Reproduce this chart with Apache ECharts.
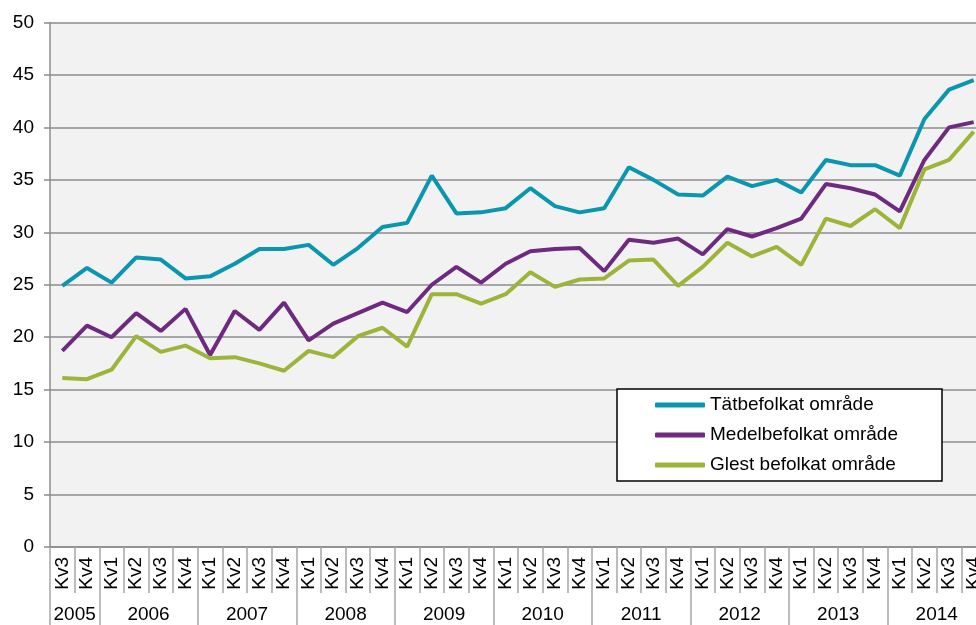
<!DOCTYPE html>
<html>
<head>
<meta charset="utf-8">
<title>Befolkningstäthet</title>
<script src="https://cdn.jsdelivr.net/npm/echarts@6/dist/echarts.min.js"></script>
<style>
  html, body { margin: 0; padding: 0; background: #fff; overflow: hidden; }
  #chart { width: 976px; height: 625px; }
</style>
</head>
<body>
<div id="chart"></div>
<script>
// Quarters (one entry per point on the horizontal axis)
const quarters = [
  'Kv3', 'Kv4',
  'Kv1', 'Kv2', 'Kv3', 'Kv4',
  'Kv1', 'Kv2', 'Kv3', 'Kv4',
  'Kv1', 'Kv2', 'Kv3', 'Kv4',
  'Kv1', 'Kv2', 'Kv3', 'Kv4',
  'Kv1', 'Kv2', 'Kv3', 'Kv4',
  'Kv1', 'Kv2', 'Kv3', 'Kv4',
  'Kv1', 'Kv2', 'Kv3', 'Kv4',
  'Kv1', 'Kv2', 'Kv3', 'Kv4',
  'Kv1', 'Kv2', 'Kv3', 'Kv4'
];

// Year groups and how many quarters each one spans
const years = ['2005', '2006', '2007', '2008', '2009', '2010', '2011', '2012', '2013', '2014'];
const quartersPerYear = [2, 4, 4, 4, 4, 4, 4, 4, 4, 4];

const seriesNames = ['Tätbefolkat område', 'Medelbefolkat område', 'Glest befolkat område'];

const tatbefolkat = [
  24.9, 26.6, 25.2, 27.6, 27.4, 25.6, 25.8, 27.0, 28.4, 28.4,
  28.8, 26.9, 28.5, 30.5, 30.9, 35.4, 31.8, 31.9, 32.3, 34.2,
  32.5, 31.9, 32.3, 36.2, 35.0, 33.6, 33.5, 35.3, 34.4, 35.0,
  33.8, 36.9, 36.4, 36.4, 35.4, 40.8, 43.6, 44.5
];

const medelbefolkat = [
  18.7, 21.1, 20.0, 22.3, 20.6, 22.7, 18.3, 22.5, 20.7, 23.3,
  19.7, 21.3, 22.3, 23.3, 22.4, 25.0, 26.7, 25.2, 27.0, 28.2,
  28.4, 28.5, 26.3, 29.3, 29.0, 29.4, 27.9, 30.3, 29.6, 30.4,
  31.3, 34.6, 34.2, 33.6, 32.0, 36.9, 40.0, 40.5
];

const glestBefolkat = [
  16.1, 16.0, 16.9, 20.1, 18.6, 19.2, 18.0, 18.1, 17.5, 16.8,
  18.7, 18.1, 20.1, 20.9, 19.1, 24.1, 24.1, 23.2, 24.1, 26.2,
  24.8, 25.5, 25.6, 27.3, 27.4, 24.9, 26.7, 29.0, 27.7, 28.6,
  26.9, 31.3, 30.6, 32.2, 30.4, 36.0, 36.9, 39.6
];

const colors = ['#0B96AF', '#6E2A7E', '#9DB43A'];
const fontFamily = "'Liberation Sans', Arial, sans-serif";
const gridGray = '#8C8C8C';
const sepGray = '#A6A6A6';

// Year separators sit on the quarter boundaries; year labels sit mid-group
const yearBounds = [0];
const yearCenters = [];
quartersPerYear.forEach(function (n, i) {
  const start = yearBounds[i];
  yearCenters.push(start + n / 2);
  yearBounds.push(start + n);
});
const yearAt = {};
yearCenters.forEach(function (c, i) { yearAt[c] = years[i]; });

const chart = echarts.init(document.getElementById('chart'), null, { renderer: 'canvas' });

chart.setOption({
  animation: false,
  color: colors,
  textStyle: { fontFamily: fontFamily },
  // The plot runs a little past the right edge of the canvas
  grid: {
    left: 50,
    width: 936,
    top: 22.5,
    bottom: 78,
    outerBoundsMode: 'none',
    containLabel: false,
    show: true,
    backgroundColor: '#F2F2F2',
    borderWidth: 0
  },
  legend: {
    orient: 'vertical',
    left: 617,
    top: 389,
    backgroundColor: '#FFFFFF',
    borderColor: '#000000',
    borderWidth: 1.5,
    borderRadius: 0,
    padding: [6, 44, 6, 38],
    itemGap: 10,
    itemWidth: 50,
    itemHeight: 5,
    icon: 'roundRect',
    textStyle: {
      fontFamily: fontFamily,
      fontSize: 19,
      lineHeight: 20,
      color: '#000000'
    },
    data: seriesNames
  },
  xAxis: [
    {
      type: 'category',
      data: quarters,
      boundaryGap: true,
      position: 'bottom',
      axisLine: { show: true, lineStyle: { color: gridGray, width: 1.5 } },
      axisTick: {
        show: true,
        interval: 0,
        length: 46,
        lineStyle: { color: sepGray, width: 1.5 }
      },
      axisLabel: {
        interval: 0,
        rotate: 90,
        margin: 10,
        fontSize: 19,
        color: '#000000',
        fontFamily: fontFamily
      },
      splitLine: { show: false }
    },
    {
      type: 'value',
      min: 0,
      max: quarters.length,
      position: 'bottom',
      axisLine: { show: false },
      axisTick: {
        show: true,
        customValues: yearBounds,
        length: 80,
        lineStyle: { color: sepGray, width: 1.5 }
      },
      axisLabel: {
        show: true,
        customValues: yearCenters,
        margin: 58,
        fontSize: 19,
        color: '#000000',
        fontFamily: fontFamily,
        formatter: function (v) { return yearAt[v] || ''; }
      },
      splitLine: { show: false }
    }
  ],
  yAxis: {
    type: 'value',
    min: 0,
    max: 50,
    interval: 5,
    axisLine: { show: true, lineStyle: { color: gridGray, width: 1.5 } },
    axisTick: { show: true, length: 6, lineStyle: { color: gridGray, width: 1.5 } },
    axisLabel: {
      margin: 16,
      fontSize: 19,
      color: '#000000',
      fontFamily: fontFamily
    },
    splitLine: { show: true, lineStyle: { color: gridGray, width: 1.5 } }
  },
  series: [
    {
      name: seriesNames[0],
      type: 'line',
      data: tatbefolkat,
      symbol: 'none',
      lineStyle: { width: 4, color: colors[0] },
      itemStyle: { color: colors[0] }
    },
    {
      name: seriesNames[1],
      type: 'line',
      data: medelbefolkat,
      symbol: 'none',
      lineStyle: { width: 4, color: colors[1] },
      itemStyle: { color: colors[1] }
    },
    {
      name: seriesNames[2],
      type: 'line',
      data: glestBefolkat,
      symbol: 'none',
      lineStyle: { width: 4, color: colors[2] },
      itemStyle: { color: colors[2] }
    }
  ]
});
</script>
</body>
</html>
